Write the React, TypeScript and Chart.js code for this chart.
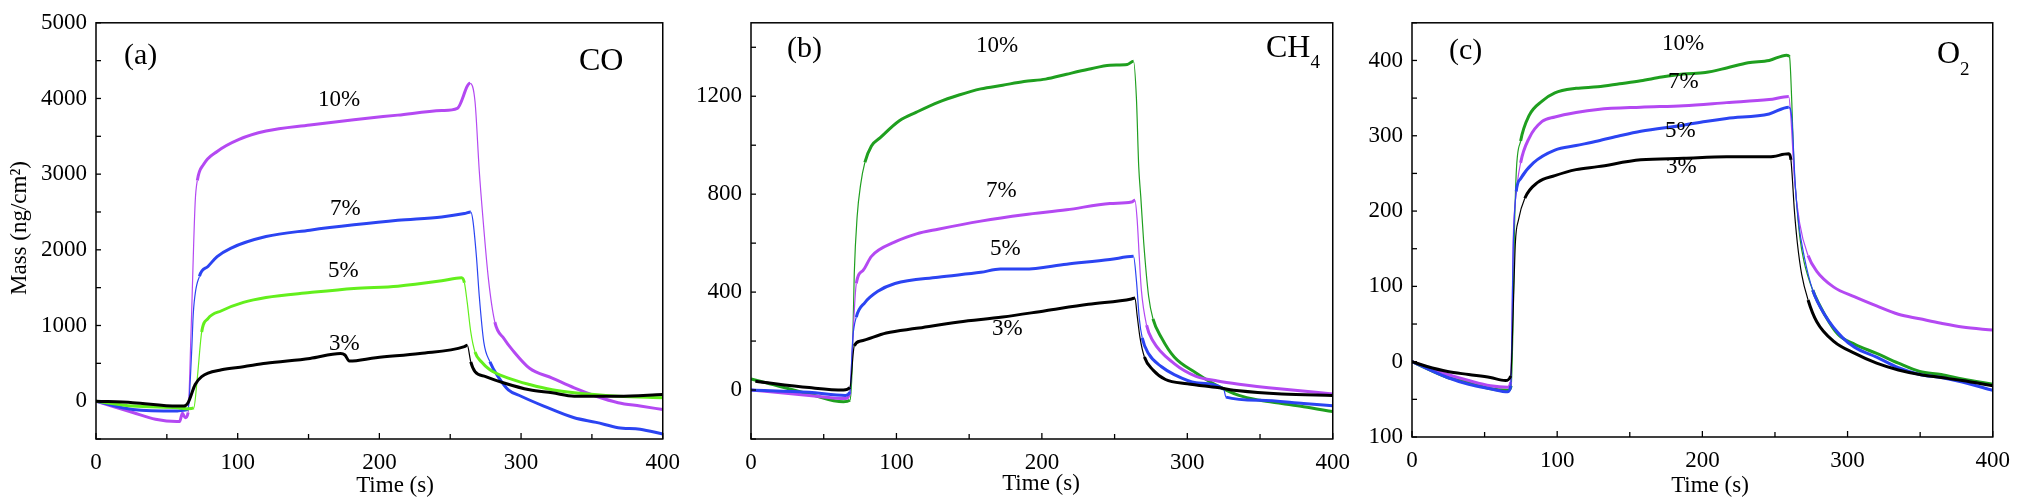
import React, { useEffect, useRef } from 'react';
import { Chart, registerables } from 'chart.js';
Chart.register(...registerables);

const FONT = '"Liberation Serif", "Times New Roman", serif';

// ---------- Panel (a) CO ----------
const coT10 = [0, 11, 26, 42, 57, 59, 61, 63, 65, 67, 70, 71.5, 76, 85.5, 101, 120, 151, 182, 213, 244, 255, 264, 267.5, 270.5, 273, 277, 281.5, 288, 294, 306, 322, 337.5, 353, 368.5, 384, 400];
const coV10 = [0, -65, -150, -240, -270, -270, -160, -220, -150, 870, 2630, 2915, 3130, 3300, 3460, 3570, 3650, 3720, 3780, 3840, 3870, 4200, 3960, 3045, 2440, 1610, 1045, 825, 675, 435, 305, 175, 65, -20, -65, -110];
const coT7 = [0, 26, 57.5, 62, 65, 67.5, 68.7, 73, 79, 85.5, 95, 120, 151, 182, 213, 244, 260, 264.5, 266, 268.5, 270.5, 273.7, 278, 284.5, 291, 300, 316, 337.5, 353, 368.5, 384, 400];
const coV7 = [0, -110, -130, -120, -100, 650, 1170, 1650, 1780, 1910, 2020, 2175, 2260, 2330, 2390, 2435, 2480, 2500, 2390, 1910, 1390, 780, 520, 305, 150, 65, -65, -220, -280, -350, -370, -435];
const coT5 = [0, 26, 57.5, 65, 69, 71.5, 74.6, 79, 88.6, 104, 120, 151, 182, 213, 244, 258, 260, 262, 264.5, 267.5, 272, 278, 291, 306, 322, 337.5, 368.5, 400];
const coV5 = [0, -65, -87, -100, -90, 305, 915, 1090, 1195, 1305, 1370, 1435, 1490, 1520, 1590, 1630, 1565, 1305, 915, 650, 520, 415, 305, 220, 150, 110, 65, 45];
const coT3 = [0, 26, 57.5, 62, 65, 70, 74.6, 88.6, 104, 120, 151, 172.6, 175.7, 178.8, 197.5, 228.6, 260, 262, 264.5, 267.5, 275, 288, 306, 322, 337.5, 368.5, 400];
const coV3 = [0, -20, -65, -65, -20, 220, 325, 415, 455, 500, 565, 630, 610, 530, 575, 630, 720, 740, 520, 390, 325, 240, 150, 110, 65, 65, 87];

// ---------- Panel (b) CH4 ----------
const chT10 = [0, 10.3, 40, 63.6, 68, 69.5, 71, 73, 75.4, 78.3, 82.8, 88.7, 102, 113.8, 128.6, 143, 158, 173, 187.7, 202.5, 217, 232, 246.8, 258.7, 263, 265, 266.6, 268, 270, 273.4, 276.4, 282.3, 291, 306, 320.8, 335.5, 350, 365, 380, 400];
const chV10 = [45, 30, -16, -48, -42, 82, 475, 710, 840, 930, 997, 1030, 1100, 1135, 1175, 1205, 1230, 1245, 1260, 1270, 1290, 1310, 1327, 1330, 1343, 1193, 912, 790, 605, 383, 291, 213, 135, 70, 17, -22, -42, -55, -68, -88];
const chT7 = [0, 40, 65, 68, 69.5, 72.4, 77, 82.8, 99, 113.8, 128.6, 158, 187.7, 217, 246.8, 261.6, 264, 265.5, 267, 268.4, 272, 276.4, 291, 306, 320.8, 335.5, 365, 400];
const chV7 = [0, -22, -35, -9, 148, 435, 488, 546, 605, 638, 657, 690, 716, 736, 762, 768, 775, 697, 540, 409, 265, 200, 108, 56, 37, 24, 4, -16];
const chT5 = [0, 40, 65, 68, 70, 72.4, 78.3, 87.2, 99, 128.6, 158, 171.5, 187.7, 217, 246.8, 263, 265, 267, 269, 273.4, 282.3, 291, 306, 325, 326.6, 350, 380, 400];
const chV5 = [0, -9, -22, -9, 213, 298, 357, 403, 435, 461, 481, 494, 494, 514, 533, 546, 448, 291, 213, 148, 95, 63, 30, 4, -29, -42, -55, -64];
const chT3 = [3, 40, 63.6, 68, 71, 75.4, 93, 113.8, 143, 173, 202.5, 232, 261.6, 264, 265.5, 267.5, 270.5, 276.4, 285, 300, 320.8, 335.5, 365, 400];
const chV3 = [36, 10, 0, 10, 180, 200, 233, 252, 278, 298, 324, 350, 372, 376, 305, 213, 135, 82, 43, 26, 10, -3, -16, -22];

// ---------- Panel (c) O2 ----------
const oT10 = [0, 24.5, 39, 54, 66, 68.3, 69.5, 70.4, 71.8, 74.8, 80.7, 89.6, 98.4, 113, 128, 143, 157.6, 172, 187, 202, 216.7, 231.5, 246, 258, 260, 261.6, 263, 265, 267, 270, 276, 284.7, 293.5, 305, 320, 335, 349.7, 364.5, 379, 400];
const oV10 = [0, -21, -27, -36, -38, -32, 42, 158, 251, 293, 327, 346, 357, 363, 365, 369, 373, 378, 382, 384, 390, 397, 400, 407, 405, 344, 264, 209, 167, 133, 95, 61, 36, 23, 11, -2, -13, -17, -23, -30];
const oT7 = [0, 24.5, 39, 54, 66, 68, 69.8, 71.2, 74.8, 80.7, 89.6, 98.4, 113, 128, 157.6, 187, 216.7, 246, 259.5, 261, 263.4, 267, 272.8, 278.8, 290.5, 305, 320, 335, 349.7, 364.5, 379, 400];
const oV7 = [0, -17, -25, -32, -34, -27, 167, 213, 264, 297, 319, 325, 331, 335, 338, 340, 344, 348, 352, 323, 243, 184, 141, 120, 99, 86, 74, 63, 57, 51, 46, 42];
const oT5 = [0, 24.5, 39, 54, 66, 68, 69.8, 71.8, 74.8, 83.6, 98.4, 113, 128, 143, 157.6, 187, 202, 216.7, 246, 259.5, 261.6, 264, 266.3, 270, 276, 284.7, 296.5, 305, 320, 335, 349.7, 364.5, 379, 400];
const oV5 = [0, -21, -30, -36, -40, -32, 158, 226, 243, 264, 281, 287, 293, 300, 306, 314, 319, 323, 329, 338, 323, 234, 184, 141, 95, 61, 32, 19, 6, -8, -17, -21, -27, -38];
const oT3 = [0, 9.8, 24.5, 39, 54, 64.4, 68, 69.8, 71.2, 73.3, 77.7, 86.6, 98.4, 113, 128, 157.6, 187, 216.7, 246, 259.5, 261, 263.4, 265.4, 268.4, 272.8, 278.8, 290.5, 305, 320, 335, 349.7, 364.5, 379, 400];
const oV3 = [0, -6, -13, -17, -21, -25, -19, 74, 158, 188, 217, 238, 247, 255, 259, 268, 270, 272, 272, 276, 268, 200, 158, 116, 82, 53, 27, 11, -2, -11, -17, -21, -25, -32];

// ---------- axes ----------
const xTickLabels = [0, 100, 200, 300, 400];
const coYTickLabels = [0, 1000, 2000, 3000, 4000, 5000];
const chYTickLabels = [0, 400, 800, 1200];
const oYTickLabels = [-100, 0, 100, 200, 300, 400];
const concLabels = ['3%', '5%', '7%', '10%'];

const PURPLE = '#b449f2';
const BLUE = '#2b44f2';
const LIME = '#63ef1c';
const GREEN = '#1f9f1f';
const BLACK = '#000000';

type Series = { t: number[]; v: number[]; color: string };
type Txt = { text: string; x: number; y: number; size: number; sub?: string; subSize?: number; subDx?: number; subDy?: number };

type PanelCfg = {
  canvasLeft: number;
  canvasWidth: number;
  area: { l: number; r: number; t: number; b: number };
  yMin: number;
  yMax: number;
  yTicks: number[];
  yMinor: number;
  series: Series[];
  texts: Txt[];
  timeX: number;
  timeY: number;
  yTitle?: { x: number; y: number };
};

const panels: PanelCfg[] = [
  {
    canvasLeft: 0,
    canvasWidth: 690,
    area: { l: 96, r: 669, t: 14, b: 439 },
    yMin: -500,
    yMax: 5000,
    yTicks: coYTickLabels,
    yMinor: 500,
    series: [
      { t: coT3, v: coV3, color: BLACK },
      { t: coT5, v: coV5, color: LIME },
      { t: coT7, v: coV7, color: BLUE },
      { t: coT10, v: coV10, color: PURPLE },
    ],
    texts: [
      { text: '(a)', x: 124, y: 64, size: 30 },
      { text: 'CO', x: 579, y: 70, size: 32 },
      { text: concLabels[3], x: 318, y: 106, size: 23 },
      { text: concLabels[2], x: 330, y: 215, size: 23 },
      { text: concLabels[1], x: 328, y: 277, size: 23 },
      { text: concLabels[0], x: 329, y: 350, size: 23 },
    ],
    timeX: 395,
    timeY: 492,
    yTitle: { x: 20, y: 228 },
  },
  {
    canvasLeft: 680,
    canvasWidth: 680,
    area: { l: 751, r: 1339, t: 5, b: 439 },
    yMin: -200,
    yMax: 1500,
    yTicks: chYTickLabels,
    yMinor: 200,
    series: [
      { t: chT3, v: chV3, color: BLACK },
      { t: chT5, v: chV5, color: BLUE },
      { t: chT7, v: chV7, color: PURPLE },
      { t: chT10, v: chV10, color: GREEN },
    ],
    texts: [
      { text: '(b)', x: 787, y: 57, size: 30 },
      { text: 'CH', x: 1266, y: 57, size: 32, sub: '4', subSize: 19, subDy: 11 },
      { text: concLabels[3], x: 976, y: 52, size: 23 },
      { text: concLabels[2], x: 986, y: 197, size: 23 },
      { text: concLabels[1], x: 990, y: 255, size: 23 },
      { text: concLabels[0], x: 992, y: 335, size: 23 },
    ],
    timeX: 1041,
    timeY: 490,
  },
  {
    canvasLeft: 1360,
    canvasWidth: 660,
    area: { l: 1412, r: 2001, t: 3, b: 437 },
    yMin: -100,
    yMax: 450,
    yTicks: oYTickLabels,
    yMinor: 50,
    series: [
      { t: oT3, v: oV3, color: BLACK },
      { t: oT5, v: oV5, color: BLUE },
      { t: oT7, v: oV7, color: PURPLE },
      { t: oT10, v: oV10, color: GREEN },
    ],
    texts: [
      { text: '(c)', x: 1449, y: 59, size: 30 },
      { text: 'O', x: 1937, y: 63, size: 32, sub: '2', subSize: 19, subDy: 12 },
      { text: concLabels[3], x: 1662, y: 50, size: 23 },
      { text: concLabels[2], x: 1668, y: 88, size: 23 },
      { text: concLabels[1], x: 1665, y: 137, size: 23 },
      { text: concLabels[0], x: 1666, y: 173, size: 23 },
    ],
    timeX: 1710,
    timeY: 492,
  },
];

function Panel({ cfg }: { cfg: PanelCfg }) {
  const ref = useRef<HTMLCanvasElement | null>(null);
  useEffect(() => {
    const canvas = ref.current;
    if (!canvas) return;
    const off = cfg.canvasLeft;
    const decor = {
      id: 'decor',
      afterDatasetsDraw(chart: any) {
        const ctx = chart.ctx as CanvasRenderingContext2D;
        const ca = chart.chartArea;
        const xs = chart.scales.x;
        const ys = chart.scales.y;
        ctx.save();
        ctx.strokeStyle = '#000';
        ctx.lineWidth = 1.5;
        ctx.strokeRect(ca.left, ca.top, ca.right - ca.left, ca.bottom - ca.top);
        ctx.lineWidth = 1.3;
        // inward x ticks
        for (let v = 0; v <= 400; v += 50) {
          const px = xs.getPixelForValue(v);
          const len = v % 100 === 0 ? 6 : 5;
          ctx.beginPath();
          ctx.moveTo(px, ca.bottom);
          ctx.lineTo(px, ca.bottom - len);
          ctx.stroke();
        }
        // inward y ticks
        for (let v = cfg.yMin; v <= cfg.yMax + 1e-9; v += cfg.yMinor) {
          const py = ys.getPixelForValue(v);
          ctx.beginPath();
          ctx.moveTo(ca.left, py);
          ctx.lineTo(ca.left + 5, py);
          ctx.stroke();
        }
        // texts
        ctx.fillStyle = '#000';
        ctx.textAlign = 'left';
        ctx.textBaseline = 'alphabetic';
        for (const t of cfg.texts) {
          ctx.font = `${t.size}px ${FONT}`;
          ctx.fillText(t.text, t.x - off, t.y);
          if (t.sub) {
            const w = ctx.measureText(t.text).width;
            ctx.font = `${t.subSize}px ${FONT}`;
            ctx.fillText(t.sub, t.x - off + w + (t.subDx || 0), t.y + (t.subDy || 0));
          }
        }
        // axis titles
        ctx.font = `23px ${FONT}`;
        ctx.textAlign = 'center';
        ctx.fillText('Time (s)', cfg.timeX - off, cfg.timeY);
        if (cfg.yTitle) {
          ctx.save();
          ctx.translate(cfg.yTitle.x - off, cfg.yTitle.y);
          ctx.rotate(-Math.PI / 2);
          ctx.textBaseline = 'middle';
          ctx.fillText('Mass (ng/cm²)', 0, 0);
          ctx.restore();
        }
        ctx.restore();
      },
    };

    const datasets = cfg.series.map((s) => ({
      data: s.t.map((t, i) => ({ x: t, y: s.v[i] })),
      borderColor: s.color,
      backgroundColor: s.color,
      borderWidth: 3,
      pointRadius: 0,
      cubicInterpolationMode: 'monotone' as const,
      segment: {
        borderWidth: (c: any) => {
          const dx = Math.abs(c.p1.x - c.p0.x);
          const dy = Math.abs(c.p1.y - c.p0.y);
          return dy > dx * 3 ? 1.2 : 3;
        },
      },
    }));

    const chart = new Chart(canvas, {
      type: 'line',
      data: { datasets },
      options: {
        animation: false,
        responsive: false,
        maintainAspectRatio: false,
        devicePixelRatio: 1,
        layout: {
          padding: {
            left: 0,
            top: cfg.area.t,
            right: cfg.canvasLeft + cfg.canvasWidth - cfg.area.r,
            bottom: 0,
          },
        },
        plugins: { legend: { display: false }, tooltip: { enabled: false }, title: { display: false } },
        scales: {
          x: {
            type: 'linear',
            min: 0,
            max: 400,
            grid: { display: false, drawTicks: false },
            border: { display: false },
            afterBuildTicks: (s: any) => {
              s.ticks = xTickLabels.map((v) => ({ value: v }));
            },
            afterFit: (s: any) => {
              s.height = 500 - cfg.area.b;
            },
            ticks: {
              color: '#000',
              padding: 10,
              maxRotation: 0,
              font: { family: FONT, size: 23 },
              callback: (v: any) => String(v),
            },
          },
          y: {
            type: 'linear',
            min: cfg.yMin,
            max: cfg.yMax,
            grid: { display: false, drawTicks: false },
            border: { display: false },
            afterBuildTicks: (s: any) => {
              s.ticks = cfg.yTicks.map((v) => ({ value: v }));
            },
            afterFit: (s: any) => {
              s.width = cfg.area.l - cfg.canvasLeft;
            },
            ticks: {
              color: '#000',
              padding: 9,
              font: { family: FONT, size: 23 },
              callback: (v: any) => String(Math.abs(Number(v))),
            },
          },
        },
      },
      plugins: [decor],
    } as any);
    return () => chart.destroy();
  }, [cfg]);

  return (
    <canvas
      ref={ref}
      width={cfg.canvasWidth}
      height={500}
      style={{ position: 'absolute', left: cfg.canvasLeft, top: 0, width: cfg.canvasWidth, height: 500 }}
    />
  );
}

export default function App() {
  return (
    <div style={{ position: 'fixed', left: 0, top: 0, width: 2020, height: 500, background: '#fff', overflow: 'hidden' }}>
      {panels.map((p, i) => (
        <Panel key={i} cfg={p} />
      ))}
    </div>
  );
}
